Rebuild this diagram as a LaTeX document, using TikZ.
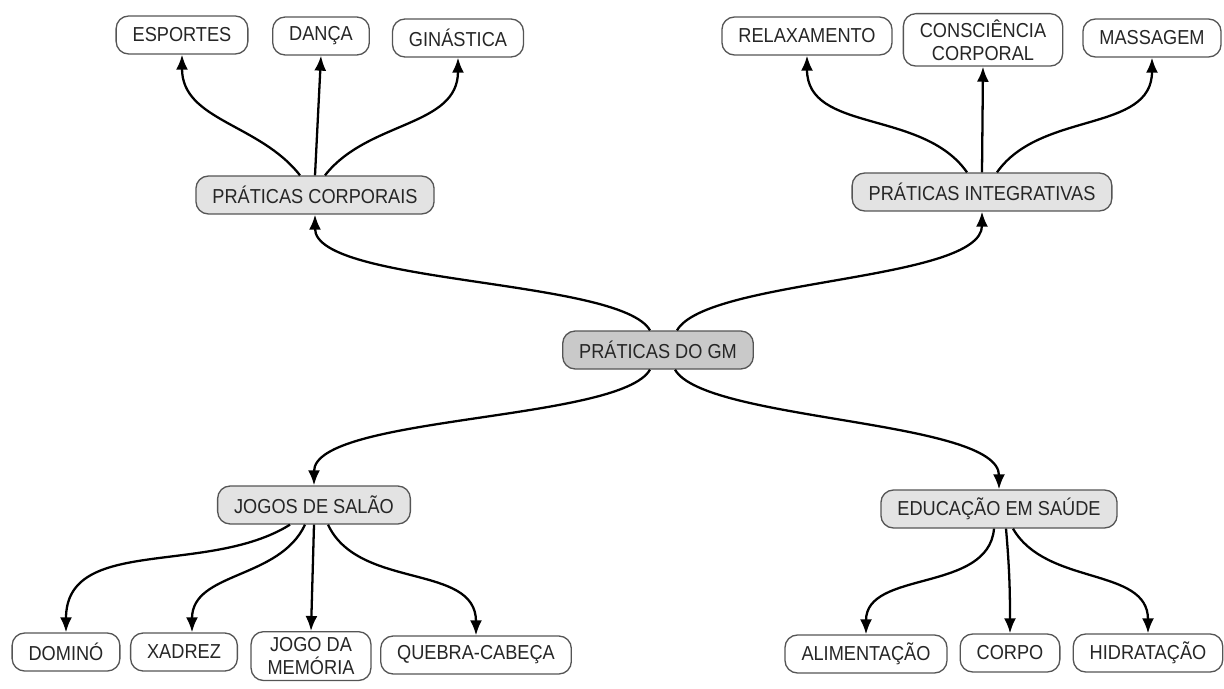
\documentclass[tikz,border=0pt]{standalone}
\usepackage{fontspec}
\setmainfont{Liberation Sans}[FakeStretch=0.9]
\usepackage{xcolor}
\usetikzlibrary{arrows.meta,positioning}

\definecolor{boxline}{HTML}{555555}
\definecolor{boxtext}{HTML}{262626}
\definecolor{groupfill}{HTML}{E3E3E3}
\definecolor{rootfill}{HTML}{C9C9C9}
\newcommand{\mapfont}{\fontsize{11.5}{13}\selectfont}

\begin{document}
\begin{tikzpicture}[leaf/.style={draw=boxline, fill=white, line width=0.75pt,
                        rounded corners=0.25cm, minimum height=0.76cm,
                        inner xsep=0.33cm, align=center, text=boxtext,
                        font=\mapfont},
                    group/.style={leaf, fill=groupfill},
                    root/.style={leaf, fill=rootfill},
                    link/.style={line width=1.3pt,
                        -{Latex[length=0.3cm,width=0.24cm]}}]
    %\draw[help lines] (0,0) grid (24,13);
    \useasboundingbox (0,0) rectangle (24.48,13.76);

   \node[root] (gm) at (13.16, 6.76) {PRÁTICAS DO GM};

   \node[group] (corporais) at (6.30, 9.86) {PRÁTICAS CORPORAIS};
   \node[group] (integrativas) at (19.64, 9.92) {PRÁTICAS INTEGRATIVAS};
   \node[group] (salao) at (6.28, 3.66) {JOGOS DE SALÃO};
   \node[group] (educacao) at (19.98, 3.58) {EDUCAÇÃO EM SAÚDE};

   \node[leaf] (esportes) at (3.64, 13.06) {ESPORTES};
   \node[leaf] (danca) at (6.42, 13.04) {DANÇA};
   \node[leaf] (ginastica) at (9.16, 13.00) {GINÁSTICA};

   \node[leaf] (relaxamento) at (16.14, 13.04) {RELAXAMENTO};
   \node[leaf, anchor=north] (consciencia) at (19.66, 13.50) {CONSCIÊNCIA\\CORPORAL};
   \node[leaf] (massagem) at (23.04, 13.00) {MASSAGEM};

   \node[leaf] (domino) at (1.32, 0.72) {DOMINÓ};
   \node[leaf] (xadrez) at (3.68, 0.72) {XADREZ};
   \node[leaf, anchor=north] (memoria) at (6.22, 1.14) {JOGO DA\\MEMÓRIA};
   \node[leaf] (quebra) at (9.52, 0.66) {QUEBRA-CABEÇA};

   \node[leaf] (alimentacao) at (17.32, 0.68) {ALIMENTAÇÃO};
   \node[leaf] (corpo) at (20.20, 0.70) {CORPO};
   \node[leaf] (hidratacao) at (22.96, 0.70) {HIDRATAÇÃO};

   % centre to the four groups
   \path[link, out distance=1.2cm, in distance=1.4cm]
   ([xshift=-0.16cm]gm.north) edge [out=120, in=-90] (corporais.south)
   ([xshift=0.38cm]gm.north) edge [out=60, in=-90] (integrativas.south)
   ([xshift=-0.16cm]gm.south) edge [out=-120, in=90] (salao.north)
   ([xshift=0.34cm]gm.south) edge [out=-60, in=90] (educacao.north);

   % groups to their items
   \path[link]
   ([xshift=-0.3cm]corporais.north) edge [out=128, in=-90] (esportes.south)
   (corporais.north) edge (danca.south)
   ([xshift=0.2cm]corporais.north) edge [out=52, in=-90] (ginastica.south)
   ([xshift=-0.3cm]integrativas.north) edge [out=125, in=-90] (relaxamento.south)
   (integrativas.north) edge (consciencia.south)
   ([xshift=0.3cm]integrativas.north) edge [out=55, in=-90] (massagem.south)
   ([xshift=-0.48cm]salao.south) edge [out=-148, in=90] (domino.north)
   ([xshift=-0.18cm]salao.south) edge [out=-115, in=90] ([xshift=0.16cm]xadrez.north)
   (salao.south) edge (memoria.north)
   ([xshift=0.28cm]salao.south) edge [out=-65, in=90] (quebra.north)
   ([xshift=-0.1cm]educacao.south) edge [out=-95, in=90] (alimentacao.north)
   ([xshift=0.14cm]educacao.south) edge [out=-85, in=90] (corpo.north)
   ([xshift=0.28cm]educacao.south) edge [out=-60, in=90] (hidratacao.north);

\end{tikzpicture}
\end{document}
